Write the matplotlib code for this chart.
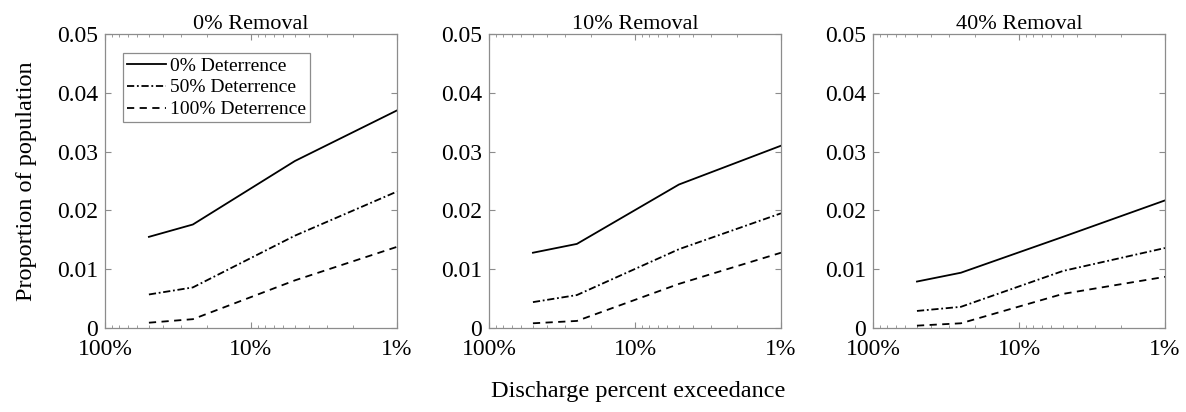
import matplotlib
matplotlib.use('Agg')
import matplotlib.pyplot as plt
from matplotlib.ticker import FixedLocator, LogLocator, NullFormatter

plt.rcParams['font.family'] = ['Liberation Serif', 'DejaVu Serif']

# exceedance probabilities (%) of the modelled discharges
exceedance = [50, 25, 5, 1]

panel_titles = ['0% Removal', '10% Removal', '40% Removal']
series_labels = ['0% Deterrence', '50% Deterrence', '100% Deterrence']

# proportion of population, one list per deterrence level, per panel
removal_0 = [
    [0.0155, 0.0176, 0.0284, 0.0370],
    [0.0057, 0.0069, 0.0157, 0.0232],
    [0.0009, 0.0015, 0.0081, 0.0138],
]
removal_10 = [
    [0.0128, 0.0143, 0.0244, 0.0310],
    [0.0044, 0.0056, 0.0134, 0.0195],
    [0.0008, 0.0012, 0.0075, 0.0128],
]
removal_40 = [
    [0.0079, 0.0094, 0.0155, 0.0217],
    [0.0029, 0.0036, 0.0097, 0.0136],
    [0.0004, 0.0008, 0.0058, 0.0087],
]
panels = [removal_0, removal_10, removal_40]

line_styles = ['-', (0, (4, 1.5, 1, 1.5)), (0, (4, 3))]
x_ticks = [100, 10, 1]
x_tick_labels = ['100%', '10%', '1%']
y_ticks = [0, 0.01, 0.02, 0.03, 0.04, 0.05]
y_tick_labels = ['0', '0.01', '0.02', '0.03', '0.04', '0.05']

fig = plt.figure(figsize=(11.86, 4.12), dpi=100)
lefts = [0.0885, 0.4123, 0.7361]
spine_grey = '#8c8c8c'

for i, (left, data, title) in enumerate(zip(lefts, panels, panel_titles)):
    ax = fig.add_axes([left, 0.2039, 0.2462, 0.7136])
    for vals, ls, lab in zip(data, line_styles, series_labels):
        ax.plot(exceedance, vals, color='black', linestyle=ls, linewidth=1.3, label=lab)
    ax.set_xscale('log')
    ax.set_xlim(100, 1)
    ax.set_ylim(0, 0.05)
    ax.xaxis.set_major_locator(FixedLocator(x_ticks))
    ax.set_xticklabels(x_tick_labels)
    ax.xaxis.set_minor_locator(LogLocator(base=10, subs=range(2, 10)))
    ax.xaxis.set_minor_formatter(NullFormatter())
    ax.set_yticks(y_ticks)
    ax.set_yticklabels(y_tick_labels)
    ax.tick_params(which='both', direction='in', top=True, right=True,
                   color=spine_grey, labelsize=17)
    ax.tick_params(axis='x', pad=8)
    ax.tick_params(axis='y', pad=5)
    ax.tick_params(which='major', length=4)
    ax.tick_params(which='minor', length=2)
    for sp in ax.spines.values():
        sp.set_color(spine_grey)
        sp.set_linewidth(0.9)
    ax.set_title(title, fontsize=16, pad=3)
    if i == 0:
        ax.set_ylabel('Proportion of population', fontsize=17.5, labelpad=14)
        leg = ax.legend(loc='upper left', bbox_to_anchor=(0.062, 0.935),
                        fontsize=14, handlelength=2.0, handletextpad=0.2,
                        borderpad=0.2, labelspacing=0.22, borderaxespad=0,
                        fancybox=False, framealpha=1)
        leg.get_frame().set_edgecolor(spine_grey)
        leg.get_frame().set_linewidth(0.9)

fig.text(0.538, 0.025, 'Discharge percent exceedance', ha='center', va='bottom', fontsize=17.5)

fig.savefig('out.png', dpi=100)
